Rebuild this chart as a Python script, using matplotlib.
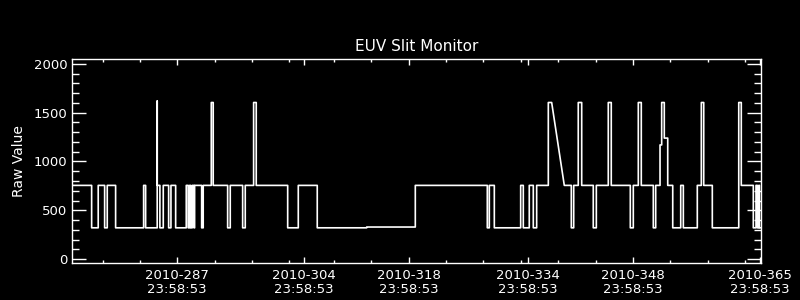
import matplotlib
matplotlib.use("Agg")
import matplotlib.pyplot as plt
from matplotlib.ticker import FixedLocator, MultipleLocator

# levels (raw value)
LO, MID, HI = 320, 755, 1605

# day of year vs raw value (vertices of the trace)
day = [272.98, 275.53, 275.53, 276.41, 276.41, 277.27, 277.27, 277.62, 277.62, 278.74,
       278.74, 282.49, 282.49, 282.76, 282.76, 284.31, 284.31, 284.31, 284.67, 284.67,
       285.12, 285.12, 285.84, 285.84, 286.15, 286.15, 286.78, 286.78, 288.20, 288.20,
       288.46, 288.46, 288.65, 288.65, 288.79, 288.79, 289.00, 289.00, 289.23, 289.23,
       289.32, 289.32, 290.26, 290.26, 290.47, 290.47, 291.55, 291.55, 291.81, 291.81,
       293.74, 293.74, 294.09, 294.09, 295.75, 295.75, 296.10, 296.10, 297.22, 297.22,
       297.57, 297.57, 301.78, 301.78, 303.20, 303.20, 305.74, 305.74, 312.36, 312.36,
       318.87, 318.87, 328.51, 328.51, 328.78, 328.78, 329.45, 329.45, 332.98, 332.98,
       333.33, 333.33, 334.13, 334.13, 334.67, 334.67, 335.12, 335.12, 336.68, 336.68,
       337.13, 338.82, 339.76, 339.76, 340.08, 340.08, 340.69, 340.69, 341.15, 341.15,
       342.70, 342.70, 343.11, 343.11, 344.71, 344.71, 345.11, 345.11, 347.66, 347.66,
       348.06, 348.06, 348.73, 348.73, 349.13, 349.13, 350.74, 350.74, 351.06, 351.06,
       351.64, 351.64, 351.86, 351.86, 352.21, 352.21, 352.67, 352.67, 353.34, 353.34,
       354.41, 354.41, 354.76, 354.76, 356.63, 356.63, 357.17, 357.17, 357.49, 357.49,
       358.64, 358.64, 362.18, 362.18, 362.52, 362.52, 364.13, 364.13, 364.49, 364.49,
       364.67, 364.67, 364.86, 364.86, 364.95, 364.95, 365.05]
raw = [MID, MID, LO, LO, MID, MID, LO, LO, MID, MID,
       LO, LO, MID, MID, LO, LO, 1620, MID, MID, LO,
       LO, MID, MID, LO, LO, MID, MID, LO, LO, MID,
       MID, LO, LO, MID, MID, LO, LO, MID, MID, LO,
       LO, MID, MID, LO, LO, MID, MID, HI, HI, MID,
       MID, LO, LO, MID, MID, LO, LO, MID, MID, HI,
       HI, MID, MID, LO, LO, MID, MID, LO, LO, 328,
       328, MID, MID, LO, LO, MID, MID, LO, LO, MID,
       MID, LO, LO, MID, MID, LO, LO, MID, MID, HI,
       HI, MID, MID, LO, LO, MID, MID, HI, HI, MID,
       MID, LO, LO, MID, MID, HI, HI, MID, MID, LO,
       LO, MID, MID, HI, HI, MID, MID, LO, LO, MID,
       MID, 1170, 1170, HI, HI, 1240, 1240, MID, MID, LO,
       LO, MID, MID, LO, LO, MID, MID, HI, HI, MID,
       MID, LO, LO, HI, HI, MID, MID, LO, LO, MID,
       MID, LO, LO, MID, MID, LO, LO]

major_days = [287, 304, 318, 334, 348, 365]
major_labels = [f"2010-{d}\n23:58:53" for d in major_days]
minor_days = [277, 282, 292, 297, 302, 308, 313, 323, 328, 333, 338, 343, 353, 358, 363]

fig = plt.figure(figsize=(8, 3), dpi=100, facecolor="black")
ax = fig.add_axes([0.09, 0.1233, 0.86125, 0.68])
ax.set_facecolor("black")

ax.plot(day, raw, color="white", linewidth=1.2)

ax.set_xlim(272.9, 365.16)
ax.set_ylim(-41, 2051)

ax.xaxis.set_major_locator(FixedLocator(major_days))
ax.set_xticklabels(major_labels)
ax.xaxis.set_minor_locator(FixedLocator(minor_days))
ax.yaxis.set_major_locator(MultipleLocator(500))
ax.yaxis.set_minor_locator(MultipleLocator(100))

for s in ax.spines.values():
    s.set_color("white")
    s.set_linewidth(1.0)

ax.tick_params(axis="both", which="both", direction="in", colors="white",
               top=True, right=True, labelsize=9.5, width=1.0)
ax.tick_params(axis="y", which="major", length=10)
ax.tick_params(axis="y", which="minor", length=5)
ax.tick_params(axis="x", which="major", length=4.5, pad=4)
ax.tick_params(axis="x", which="minor", length=2.5)
for lab in ax.get_xticklabels():
    lab.set_linespacing(1.1)

ax.set_title("EUV Slit Monitor", color="white", fontsize=11, pad=6)
ax.set_ylabel("Raw Value", color="white", fontsize=10, labelpad=5)

fig.savefig("out.png", dpi=100, facecolor="black")
